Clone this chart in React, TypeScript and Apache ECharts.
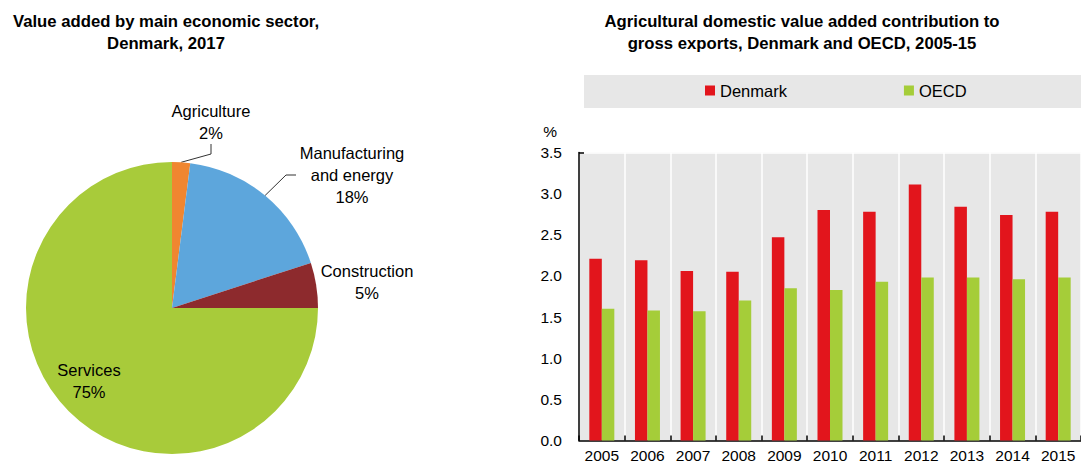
import React, { useEffect, useRef } from 'react';
import * as echarts from 'echarts';

// Pie data: value added by main economic sector, Denmark, 2017 (%)
const pieNames = ['Agriculture', 'Manufacturing\nand energy', 'Construction', 'Services'];
const pieValues = [2, 18, 5, 75];
const pieColors = ['#F08630', '#5DA6DC', '#8D2A2D', '#A8CB3A'];

// Bar data: agricultural domestic value added contribution to gross exports (%)
const years = ['2005', '2006', '2007', '2008', '2009', '2010', '2011', '2012', '2013', '2014', '2015'];
const denmark = [2.21, 2.19, 2.06, 2.05, 2.47, 2.80, 2.78, 3.11, 2.84, 2.74, 2.78];
const oecd = [1.60, 1.58, 1.57, 1.70, 1.85, 1.83, 1.93, 1.98, 1.98, 1.96, 1.98];
const seriesNames = ['Denmark', 'OECD'];
const barColors = ['#E2151C', '#A5CD39'];

const FONT = '"Liberation Sans", Arial, sans-serif';

// label anchor positions and box widths (layout only)
const pieLabelPos = [
  { x: 211, y: 122, w: 82 },
  { x: 352, y: 175, w: 112 },
  { x: 367, y: 282, w: 100 },
  { x: 89, y: 381, w: 70 },
];

export default function App() {
  const ref = useRef<HTMLDivElement>(null);
  useEffect(() => {
    if (!ref.current) return;
    const chart = echarts.init(ref.current, null, { renderer: 'svg' });
    const titleStyle = { fontFamily: FONT, fontWeight: 'bold', fontSize: 16.7, lineHeight: 22, color: '#000' };
    const option: any = {
      animation: false,
      textStyle: { fontFamily: FONT, color: '#000' },
      title: [
        {
          text: 'Value added by main economic sector,\nDenmark, 2017',
          left: 166,
          top: 10,
          textAlign: 'center',
          padding: 0,
          textStyle: titleStyle,
        },
        {
          text: 'Agricultural domestic value added contribution to\ngross exports, Denmark and OECD, 2005-15',
          left: 802,
          top: 10,
          textAlign: 'center',
          padding: 0,
          textStyle: titleStyle,
        },
      ],
      graphic: [
        {
          type: 'rect',
          shape: { x: 584, y: 75, width: 500, height: 33 },
          style: { fill: '#e7e7e7' },
          z: -1,
        },
      ],
      legend: {
        data: seriesNames,
        left: 705,
        top: 82,
        padding: 0,
        icon: 'rect',
        itemWidth: 10,
        itemHeight: 10,
        itemGap: 117,
        textStyle: { fontFamily: FONT, fontSize: 16.5, color: '#000' },
      },
      grid: {
        left: 579,
        top: 152.5,
        right: -4,
        bottom: 23.5,
        show: true,
        backgroundColor: '#e7e7e7',
        borderWidth: 0,
      },
      xAxis: {
        type: 'category',
        data: years,
        axisLine: { lineStyle: { color: '#000', width: 1.5 } },
        axisTick: { show: true, inside: true, length: 5, lineStyle: { color: '#000', width: 1.5 } },
        axisLabel: { fontFamily: FONT, fontSize: 15.5, color: '#000', margin: 7, interval: 0 },
        splitLine: { show: true, lineStyle: { color: '#ffffff', width: 1.5 } },
      },
      yAxis: {
        type: 'value',
        min: 0,
        max: 3.5,
        interval: 0.5,
        name: '%',
        nameLocation: 'end',
        nameGap: 13,
        nameTextStyle: { fontFamily: FONT, fontSize: 15.5, color: '#000', align: 'right', padding: [0, 22, 0, 0] },
        axisLine: { show: true, lineStyle: { color: '#000', width: 1.5 } },
        axisTick: { show: true, inside: true, length: 5, customValues: [3.5], lineStyle: { color: '#000', width: 1.5 } },
        axisLabel: { fontFamily: FONT, fontSize: 15.5, color: '#000', margin: 17, formatter: (v: number) => v.toFixed(1) },
        splitLine: { show: true, lineStyle: { color: '#ffffff', width: 1.5 } },
      },
      series: [
        {
          name: seriesNames[0],
          type: 'bar',
          data: denmark,
          barWidth: 12.5,
          barGap: '0%',
          itemStyle: { color: barColors[0] },
        },
        {
          name: seriesNames[1],
          type: 'bar',
          data: oecd,
          barWidth: 12.5,
          barGap: '0%',
          itemStyle: { color: barColors[1] },
        },
        {
          name: 'Value added',
          type: 'pie',
          center: [172, 308],
          radius: 146,
          startAngle: 90,
          clockwise: true,
          silent: true,
          data: pieNames.map((n, i) => ({
            name: n,
            value: pieValues[i],
            itemStyle: { color: pieColors[i] },
            label: { width: pieLabelPos[i].w },
            labelLine: { show: i === 0 || i === 1 },
          })),
          label: {
            show: true,
            position: 'outside',
            formatter: (p: any) => `${p.name}\n${p.value}%`,
            fontFamily: FONT,
            fontSize: 16.5,
            lineHeight: 22,
            color: '#000',
            align: 'center',
            overflow: 'none',
          },
          labelLine: { show: true, length: 10, length2: 10, lineStyle: { color: '#333', width: 1 } },
          labelLayout: (params: any) => {
            const p = pieLabelPos[params.dataIndex];
            return { x: p.x, y: p.y, align: 'center', verticalAlign: 'middle' };
          },
        },
      ],
    };
    chart.setOption(option);
    return () => chart.dispose();
  }, []);
  return (
    <div
      ref={ref}
      style={{ position: 'absolute', left: 0, top: 0, width: 1081, height: 464 }}
    />
  );
}
